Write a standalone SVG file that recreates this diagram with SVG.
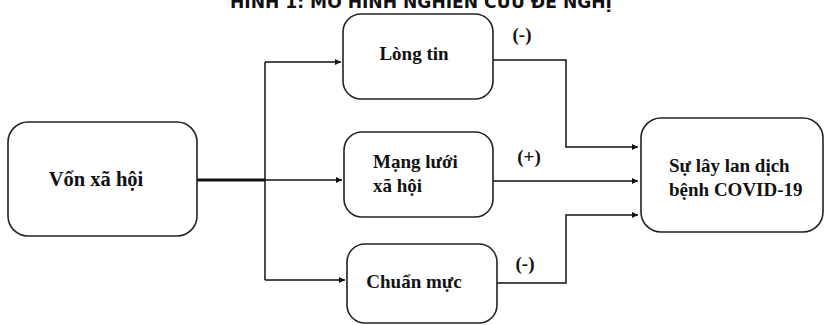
<svg xmlns="http://www.w3.org/2000/svg" width="825" height="325" viewBox="0 0 825 325">
<defs>
<marker id="ah" viewBox="0 0 10 10" refX="10" refY="5" markerWidth="8" markerHeight="6" orient="auto" markerUnits="userSpaceOnUse">
<path d="M0,0 L10,5 L0,10 z" fill="#111"/>
</marker>
</defs>
<style>
.box{fill:#fff;stroke:#222;stroke-width:1.6}
.lbl{font-family:"Liberation Serif","Times New Roman",serif;font-weight:bold;font-size:19px;fill:#111}
.big{font-size:20.5px}
.sign{font-family:"Liberation Serif","Times New Roman",serif;font-weight:bold;font-size:19px;fill:#111}
.title{font-family:"DejaVu Sans","Liberation Sans",sans-serif;font-weight:bold;font-size:17px;fill:#111}
.conn{fill:none;stroke:#111;stroke-width:1.5}
</style>
<rect width="825" height="325" fill="#fff"/>
<text class="title" x="421" y="8" text-anchor="middle" textLength="382" lengthAdjust="spacingAndGlyphs">HÌNH 1: MÔ HÌNH NGHIÊN CỨU ĐỀ NGHỊ</text>
<g id="connectors">
<path class="conn" d="M197,180 L265,180" style="stroke-width:3"/>
<path class="conn" d="M265,62 L265,280"/>
<path class="conn" d="M265,62 L341,62" marker-end="url(#ah)"/>
<path class="conn" d="M265,180 L342,180" marker-end="url(#ah)"/>
<path class="conn" d="M265,280 L345,280" marker-end="url(#ah)"/>
<path class="conn" d="M493,60 L566,60 L566,147 L638,147" marker-end="url(#ah)"/>
<path class="conn" d="M493,181 L638,181" marker-end="url(#ah)"/>
<path class="conn" d="M497,283 L566,283 L566,215 L638,215" marker-end="url(#ah)"/>
<text class="sign" x="522" y="41" text-anchor="middle">(-)</text>
<text class="sign" x="529" y="163" text-anchor="middle">(+)</text>
<text class="sign" x="525" y="270" text-anchor="middle">(-)</text>
</g>
<g id="von-xa-hoi">
<rect class="box" x="8" y="122" width="189" height="114" rx="20"/>
<text class="lbl big" x="96" y="186" text-anchor="middle">Vốn xã hội</text>
</g>
<g id="long-tin">
<rect class="box" x="343" y="14" width="150" height="85" rx="18"/>
<text class="lbl" x="414" y="60" text-anchor="middle">Lòng tin</text>
</g>
<g id="mang-luoi">
<rect class="box" x="344" y="132" width="149" height="85" rx="18"/>
<text class="lbl" x="373" y="168">Mạng lưới</text>
<text class="lbl" x="373" y="192">xã hội</text>
</g>
<g id="chuan-muc">
<rect class="box" x="347" y="244" width="150" height="79" rx="18"/>
<text class="lbl" x="414" y="288" text-anchor="middle">Chuẩn mực</text>
</g>
<g id="su-lay-lan">
<rect class="box" x="641" y="118" width="182" height="114" rx="20"/>
<text class="lbl" x="669" y="172">Sự lây lan dịch</text>
<text class="lbl" x="669" y="196">bệnh COVID-19</text>
</g>
</svg>
